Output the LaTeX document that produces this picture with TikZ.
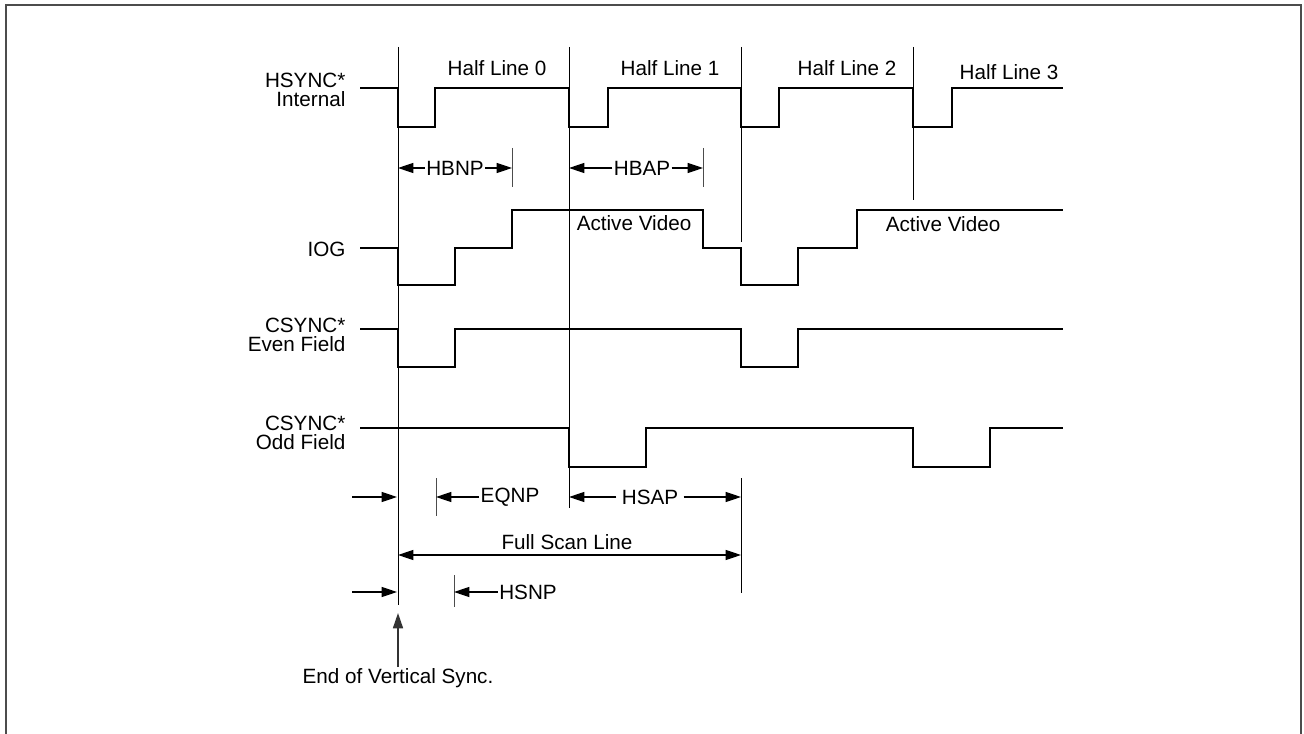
\documentclass[tikz,border=0pt]{standalone}
\usepackage{fontspec}
\setmainfont{Liberation Sans}
\usetikzlibrary{arrows.meta}
\begin{document}
\begin{tikzpicture}[x=0.75pt,y=-0.75pt,
  every node/.style={font=\fontsize{15.5}{14.5}\selectfont,inner sep=1pt},
  sig/.style={line width=1.6pt},
  guide/.style={line width=0.6pt},
  tick/.style={line width=0.6pt,black!70},
  dim/.style={line width=0.8pt,-{Triangle[length=11.5pt,width=7.5pt]}},
  dimboth/.style={line width=0.8pt,{Triangle[length=11.5pt,width=7.5pt]}-{Triangle[length=11.5pt,width=7.5pt]}},
  rowlbl/.style={align=right,anchor=east}]
\useasboundingbox (0,0) rectangle (1304,734);
\draw[line width=1.5pt,black!70] (6,734) -- (6,5) -- (1301,5) -- (1301,734);

% row labels
\node[rowlbl] (hsync) at (347,90) {HSYNC*\\Internal};
\node[rowlbl] (iog) at (347,249) {IOG};
\node[rowlbl] (even) at (347,335) {CSYNC*\\Even Field};
\node[rowlbl] (odd) at (347,433) {CSYNC*\\Odd Field};

% half line markers
\draw[guide] (398,47) -- (398,605);
\draw[guide] (569,47) -- (569,508);
\draw[guide] (741,47) -- (741,242);
\draw[guide] (913,47) -- (913,200);
\draw[guide] (741,478) -- (741,593);
\node (hl0) at (497,68) {Half Line 0};
\node (hl1) at (670,68) {Half Line 1};
\node (hl2) at (847,68) {Half Line 2};
\node (hl3) at (1009,72) {Half Line 3};

% waveforms
\draw[sig] (360,88) -| (398,127) -| (435,88) -| (569,127) -| (608,88) -| (741,127)
  -| (779,88) -| (913,127) -| (952,88) -- (1063,88);
\draw[sig] (360,248) -| (398,285) -| (455,248) -| (512,210) -| (703,248) -| (741,285)
  -| (798,248) -| (857,210) -- (1063,210);
\draw[sig] (360,329) -| (398,367) -| (455,329) -| (741,367) -| (798,329) -- (1063,329);
\draw[sig] (360,428) -| (569,467) -| (646,428) -| (913,467) -| (990,428) -- (1063,428);
\node (av1) at (634,223) {Active Video};
\node (av2) at (943,224) {Active Video};

% ticks
\draw[tick] (512,148) -- (512,187);
\draw[tick] (703,148) -- (703,187);
\draw[tick] (436,478) -- (436,516);
\draw[tick] (454,575) -- (454,607);

% dimensions
\coordinate (a0) at (398,168);
\coordinate (a1) at (512,168);
\coordinate (b0) at (569,168);
\coordinate (b1) at (703,168);
\node (hbnp) at (455,168) {HBNP};
\node (hbap) at (642,168) {HBAP};
\draw[dim] (hbnp.west) -- (a0);
\draw[dim] (hbnp.east) -- (a1);
\draw[dim] (hbap.west) -- (b0);
\draw[dim] (hbap.east) -- (b1);

\coordinate (e0) at (352,497);
\coordinate (e1) at (397,497);
\coordinate (e2) at (436,497);
\coordinate (e3) at (569,497);
\coordinate (e4) at (741,497);
\node (eqnp) at (510,497) {EQNP};
\node[inner sep=4pt] (hsap) at (650,497) {HSAP};
\draw[dim] (e0) -- (e1);
\draw[dim] (eqnp.west) -- (e2);
\draw[dim] (hsap.west) -- (e3);
\draw[dim] (hsap.east) -- (e4);

\coordinate (f0) at (398,555);
\coordinate (f1) at (741,555);
\draw[dimboth] (f0) -- (f1);
\node (fsl) at (567,542) {Full Scan Line};

\coordinate (s0) at (352,592);
\coordinate (s1) at (397,592);
\coordinate (s2) at (454,592);
\node (hsnp) at (528,592) {HSNP};
\draw[dim] (s0) -- (s1);
\draw[dim] (hsnp.west) -- (s2);

% end of vertical sync
\node[anchor=north] (evs) at (398,667) {End of Vertical Sync.};
\coordinate (v0) at (398,613);
\draw[dim,black!80,line width=1.2pt] (evs.north) -- (v0);
\end{tikzpicture}
\end{document}
